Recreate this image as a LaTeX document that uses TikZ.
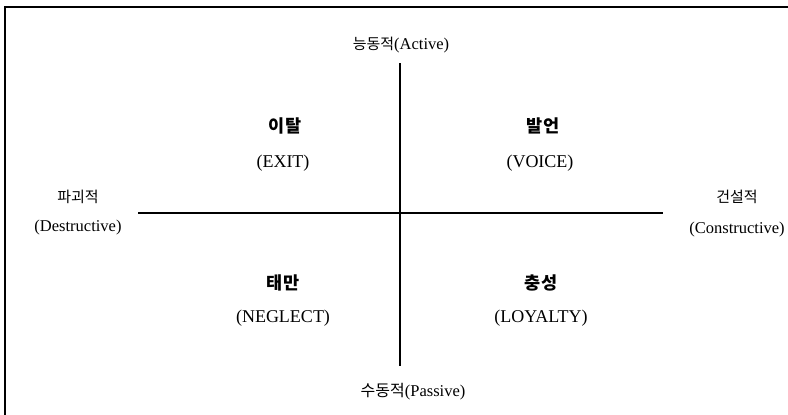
\documentclass[tikz,border=0pt]{standalone}
\usepackage{fontspec}
\setmainfont{Liberation Serif}
\newfontfamily\kr{Noto Sans CJK KR}
\begin{document}
\begin{tikzpicture}[x=1pt,y=-1pt,
  axisline/.style={line width=1.1pt,black},
  frameline/.style={line width=1.2pt,black},
  quadkr/.style={font=\kr\bfseries\fontsize{17.5}{20}\selectfont,inner sep=0pt,anchor=center},
  quaden/.style={font=\fontsize{18}{20}\selectfont,inner sep=0pt,anchor=center},
  axlbl/.style={font=\fontsize{16.5}{19}\selectfont,inner sep=0pt,anchor=center},
  axkr/.style={font=\kr\fontsize{15}{18}\selectfont,inner sep=0pt,anchor=center}]
\useasboundingbox (0,0) rectangle (788,415);
% frame (open to the right and bottom)
\coordinate (fbl) at (5,415);
\coordinate (ftl) at (5,7);
\coordinate (ftr) at (788,7);
\draw[frameline] (fbl) -- (ftl) -- (ftr);
% axes
\coordinate (vt) at (400,63);
\coordinate (vb) at (400,366);
\coordinate (hl) at (138,213);
\coordinate (hr) at (663,213);
\draw[axisline] (vt) -- (vb);
\draw[axisline] (hl) -- (hr);
% axis labels
\node[axlbl] (act) at (401,45) {{\kr\fontsize{15}{18}\selectfont 능동적}(Active)};
\node[axlbl] (pas) at (413,392) {{\kr\fontsize{16}{18}\selectfont 수동적}(Passive)};
\node[axkr] (dkr) at (78,197) {파괴적};
\node[axlbl] (den) at (78,228) {(Destructive)};
\node[axkr] (ckr) at (737,197) {건설적};
\node[axlbl] (cen) at (737,230) {(Constructive)};
% quadrants
\node[quadkr] (exkr) at (285,126) {이탈};
\node[quaden] (exen) at (283,163) {(EXIT)};
\node[quadkr] (vokr) at (543,126) {발언};
\node[quaden] (voen) at (540,163) {(VOICE)};
\node[quadkr] (nekr) at (283,283) {태만};
\node[quaden] (neen) at (283,318) {(NEGLECT)};
\node[quadkr] (lokr) at (541,283) {충성};
\node[quaden] (loen) at (541,318) {(LOYALTY)};
\end{tikzpicture}
\end{document}
